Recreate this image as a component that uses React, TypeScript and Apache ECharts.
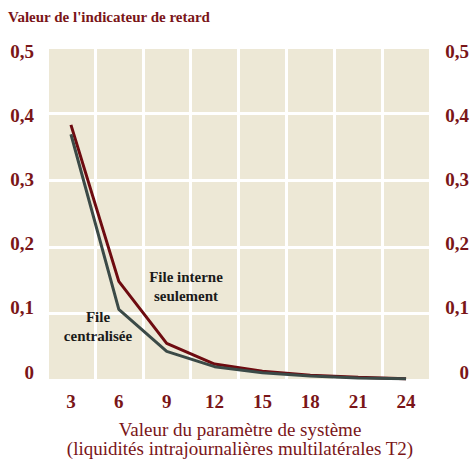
import React, { useEffect, useRef } from "react";
import * as echarts from "echarts";

const categories = ["3", "6", "9", "12", "15", "18", "21", "24"];
const fileInterne = [0.383, 0.148, 0.055, 0.024, 0.013, 0.007, 0.004, 0.002];
const fileCentralisee = [0.369, 0.106, 0.043, 0.02, 0.011, 0.006, 0.003, 0.002];
const yTicks = { min: 0, max: 0.5, interval: 0.1 };

const FONT = "'Liberation Serif', 'DejaVu Serif', serif";
const MAROON = "#7a1518";

const fmt = (v: number) => (v === 0 ? "0" : v.toFixed(1).replace(".", ","));

export default function App() {
  const ref = useRef<HTMLDivElement>(null);
  useEffect(() => {
    if (!ref.current) return;
    const chart = echarts.init(ref.current, undefined, { renderer: "svg" });
    chart.setOption({
      animation: false,
      backgroundColor: "#ffffff",
      textStyle: { fontFamily: FONT },
      grid: [
        { left: 47, right: 42, top: 47, bottom: 79, show: true, backgroundColor: "#ede8d6", borderWidth: 0 },
        { left: 47, right: 42, top: 51, bottom: 87, show: false },
      ],
      xAxis: [
        {
          type: "category",
          data: categories,
          gridIndex: 0,
          boundaryGap: true,
          axisLine: { show: false },
          axisTick: { show: false },
          splitLine: { show: true, lineStyle: { color: "#ffffff", width: 3 } },
          axisLabel: { color: MAROON, fontSize: 19, fontWeight: "bold", fontFamily: FONT, margin: 12 },
        },
        { type: "value", gridIndex: 1, show: false },
      ],
      yAxis: [
        {
          type: "value",
          gridIndex: 0,
          ...yTicks,
          axisLine: { show: false },
          axisTick: { show: false },
          axisLabel: { show: false },
          splitLine: { show: true, lineStyle: { color: "#ffffff", width: 3 } },
        },
        {
          type: "value",
          gridIndex: 1,
          position: "left",
          ...yTicks,
          axisLine: { show: false },
          axisTick: { show: false },
          splitLine: { show: false },
          axisLabel: { color: MAROON, fontSize: 19, fontWeight: "bold", fontFamily: FONT, margin: 13, align: "right", formatter: fmt },
        },
        {
          type: "value",
          gridIndex: 1,
          position: "right",
          ...yTicks,
          axisLine: { show: false },
          axisTick: { show: false },
          splitLine: { show: false },
          axisLabel: { color: MAROON, fontSize: 19, fontWeight: "bold", fontFamily: FONT, margin: 41, align: "right", formatter: fmt },
        },
      ],
      series: [
        {
          name: "File interne seulement",
          type: "line",
          xAxisIndex: 0,
          yAxisIndex: 0,
          data: fileInterne,
          symbol: "none",
          lineStyle: { color: "#6e0b10", width: 3 },
          z: 3,
        },
        {
          name: "File centralisée",
          type: "line",
          xAxisIndex: 0,
          yAxisIndex: 0,
          data: fileCentralisee,
          symbol: "none",
          lineStyle: { color: "#3b4a47", width: 3 },
          z: 4,
        },
      ],
      graphic: [
        {
          type: "text",
          left: 8,
          top: 9,
          style: { text: "Valeur de l'indicateur de retard", fill: MAROON, font: `bold 15px ${FONT}` },
        },
        {
          type: "text",
          x: 240,
          y: 439,
          style: {
            text: "Valeur du paramètre de système\n(liquidités intrajournalières multilatérales T2)",
            fill: MAROON,
            fontFamily: FONT,
            fontSize: 19,
            lineHeight: 19,
            align: "center",
            verticalAlign: "middle",
          },
        },
        {
          type: "text",
          x: 186,
          y: 286.5,
          z: 10,
          style: {
            text: "File interne\nseulement",
            fill: "#1a1a1a",
            fontFamily: FONT,
            fontSize: 15,
            fontWeight: "bold",
            lineHeight: 19,
            align: "center",
            verticalAlign: "middle",
          },
        },
        {
          type: "text",
          x: 98,
          y: 326.5,
          z: 10,
          style: {
            text: "File\ncentralisée",
            fill: "#1a1a1a",
            fontFamily: FONT,
            fontSize: 15,
            fontWeight: "bold",
            lineHeight: 19,
            align: "center",
            verticalAlign: "middle",
          },
        },
      ],
    });
    return () => chart.dispose();
  }, []);
  return <div ref={ref} style={{ position: "fixed", left: 0, top: 0, width: 472, height: 459 }} />;
}
